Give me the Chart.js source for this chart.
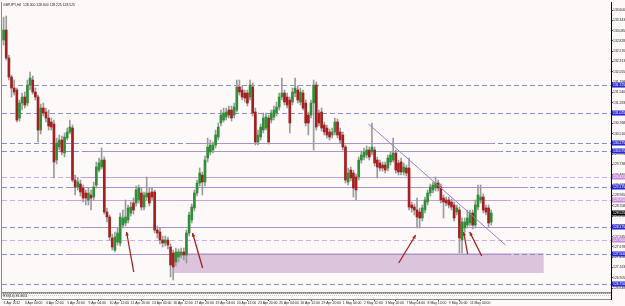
<!DOCTYPE html>
<html>
<head>
<meta charset="utf-8">
<script src="https://cdn.jsdelivr.net/npm/chart.js@4.4.1/dist/chart.umd.min.js"></script>
<style>
  html, body { margin: 0; padding: 0; background: #fdf9f9; }
  #wrap { width: 625px; height: 306px; position: relative; }
</style>
</head>
<body>
<div id="wrap"><canvas id="c" width="625" height="306"></canvas></div>
<script>
// GBPJPY H4, 1 Apr - 10 May 2012
const opens = [
  132.85,133.10,132.40,131.925,131.65,131.60,130.90,131.275,131.425,131.275,
  131.725,131.85,131.55,131.425,130.60,131.15,131.05,130.90,130.80,130.75,
  129.85,130.175,130.35,130.025,130.40,130.55,130.65,129.35,129.175,129.25,
  129.15,129.025,128.85,128.975,128.925,129.225,129.60,129.675,129.85,128.55,
  128.425,127.90,127.60,127.80,127.775,128.225,128.275,128.35,128.525,128.775,
  128.775,128.85,129.025,128.675,128.925,129.025,129.05,129.05,128.10,128.05,
  127.85,127.775,127.85,127.675,127.525,127.30,127.425,127.475,127.55,127.475,
  128.025,128.35,128.65,129.025,129.275,129.475,129.30,129.90,130.05,130.10,
  130.225,130.425,130.775,130.85,130.925,131.10,131.10,130.975,131.10,131.675,
  131.60,131.525,131.525,131.425,131.675,131.05,130.30,130.425,130.60,130.65,
  130.90,130.85,130.925,131.025,131.175,131.425,131.525,131.425,131.35,131.30,
  131.525,131.60,131.30,131.525,131.275,130.975,130.975,131.275,131.725,131.025,
  131.05,130.725,130.65,130.55,130.475,130.55,130.80,130.55,130.475,130.175,
  129.30,129.60,129.525,129.425,129.425,129.85,129.925,129.975,130.10,130.05,
  130.10,129.85,129.775,129.725,129.725,129.65,129.80,129.85,130.025,129.775,
  129.80,129.55,129.65,129.65,128.725,128.675,128.60,128.55,128.40,128.60,
  128.80,129.025,129.10,129.15,129.275,129.175,128.90,128.85,128.85,128.80,
  128.725,128.55,128.60,127.85,128.15,128.225,128.275,128.525,128.225,128.675,
  128.85,128.925,128.65,128.65,128.30
];
const highs = [
  133.425,133.45,132.475,131.975,131.85,131.65,131.35,131.525,131.55,131.85,
  132.05,131.95,131.65,131.475,131.25,131.275,131.15,131.10,130.90,130.85,
  130.40,130.475,130.45,130.525,130.65,130.85,130.725,129.475,129.40,129.35,
  129.225,129.10,129.15,129.10,129.30,129.80,129.90,130.15,129.925,128.65,
  128.475,128.00,128.05,128.15,128.525,128.60,128.85,128.725,128.80,128.90,
  129.20,129.225,129.15,129.05,129.425,129.15,129.15,129.10,128.20,128.15,
  127.95,127.95,127.925,127.75,127.60,127.65,127.625,127.65,127.65,128.10,
  128.55,128.75,129.10,129.35,129.65,129.55,129.95,130.40,130.35,130.30,
  130.60,130.775,131.10,131.15,131.15,131.20,131.20,131.275,131.85,131.85,
  131.70,131.60,131.60,131.85,131.775,131.15,130.60,130.75,131.025,131.025,
  130.975,131.10,131.20,131.30,131.525,131.90,131.60,131.525,131.425,131.65,
  131.90,131.70,131.65,131.60,131.35,131.05,131.35,131.85,131.80,131.10,
  131.15,130.80,130.725,130.625,130.65,130.90,130.875,130.65,130.55,130.225,
  129.65,129.675,129.60,129.50,129.925,130.075,130.15,130.20,130.175,130.775,
  130.175,129.925,129.85,129.80,129.80,129.975,130.05,130.40,130.10,129.85,
  129.90,129.775,129.725,129.90,128.80,128.75,128.90,128.65,128.725,128.925,
  129.10,129.25,129.30,129.425,129.35,129.25,128.975,128.925,128.925,128.875,
  128.80,128.725,128.675,128.40,128.40,128.60,128.60,128.60,128.85,129.225,
  129.225,129.00,128.725,128.725,128.60
];
const lows = [
  132.725,132.35,131.85,131.425,131.475,130.80,130.825,131.10,131.15,131.20,
  131.60,131.50,131.35,130.30,130.50,130.95,130.80,130.60,130.60,129.40,
  129.75,130.10,129.975,129.925,130.35,130.50,129.30,128.975,129.10,128.95,
  128.80,128.725,128.725,128.60,128.85,129.15,129.55,129.625,128.50,128.30,
  127.85,127.60,127.55,127.725,127.70,128.15,128.20,128.275,128.45,128.50,
  128.70,128.775,128.60,128.60,128.85,128.70,128.85,128.025,127.90,127.75,
  127.675,127.70,127.625,126.925,126.85,127.20,127.30,127.40,127.35,127.275,
  127.95,128.275,128.575,128.95,129.20,128.975,129.20,129.80,129.975,130.025,
  130.15,130.35,130.70,130.80,130.85,130.90,130.825,130.90,131.05,131.475,
  131.35,131.30,131.20,131.35,130.95,130.225,130.225,130.35,130.525,130.60,
  130.25,130.775,130.85,130.95,131.10,131.35,131.225,131.15,130.525,131.225,
  131.425,131.275,131.225,131.10,130.70,130.475,130.90,130.10,130.60,130.70,
  130.575,130.475,130.40,130.35,130.40,130.475,130.40,130.275,130.10,129.275,
  129.225,129.325,128.925,128.85,129.35,129.775,129.85,129.90,129.85,129.975,
  129.70,129.40,129.575,129.575,129.525,129.575,129.725,129.80,129.525,129.475,
  129.475,129.475,129.45,128.60,128.55,128.475,128.15,128.15,128.325,128.525,
  128.725,128.95,129.025,129.075,129.075,128.775,128.40,128.70,128.65,128.60,
  128.325,128.475,127.525,127.525,128.05,128.15,128.20,128.125,128.15,128.60,
  128.775,128.525,128.475,128.175,128.225
];
const closes = [
  133.10,132.40,131.925,131.65,131.55,130.85,131.275,131.425,131.225,131.725,
  131.90,131.55,131.425,130.60,131.15,131.025,130.90,130.70,130.675,129.80,
  130.275,130.35,130.05,130.425,130.55,130.675,129.35,129.175,129.30,129.05,
  128.90,128.90,129.025,128.90,129.175,129.675,129.775,129.85,128.55,128.425,
  127.925,127.675,127.925,128.025,128.425,128.40,128.425,128.65,128.675,128.60,
  129.10,129.15,128.675,128.975,129.025,128.775,128.925,128.10,128.025,127.85,
  127.775,127.85,127.725,127.225,127.175,127.55,127.55,127.55,127.475,128.025,
  128.475,128.675,129.025,129.275,129.525,129.30,129.85,130.175,130.225,130.225,
  130.475,130.675,130.975,131.025,131.05,130.975,130.90,131.175,131.675,131.55,
  131.425,131.40,131.275,131.725,131.025,130.30,130.475,130.675,130.90,130.925,
  130.30,131.025,131.10,131.175,131.425,131.525,131.30,131.225,130.775,131.55,
  131.65,131.35,131.55,131.15,130.775,130.775,131.275,131.725,130.675,130.775,
  130.65,130.55,130.475,130.425,130.55,130.80,130.475,130.35,130.175,129.35,
  129.525,129.40,129.15,129.10,129.85,129.975,130.05,130.10,129.925,130.175,
  129.775,129.675,129.65,129.65,129.60,129.90,129.975,130.025,129.60,129.55,
  129.55,129.675,129.525,128.675,128.65,128.60,128.425,128.40,128.65,128.85,
  129.025,129.175,129.225,129.275,129.15,128.85,128.80,128.775,128.725,128.675,
  128.40,128.65,127.90,128.30,128.30,128.40,128.525,128.225,128.725,128.975,
  128.925,128.60,128.55,128.275,128.525
];

// one time label every 8 bars
const timeLabels = [
  '1 Apr 2012','3 Apr 04:00','4 Apr 12:00','5 Apr 20:00','9 Apr 04:00','10 Apr 12:00',
  '11 Apr 20:00','13 Apr 04:00','16 Apr 12:00','17 Apr 20:00','19 Apr 04:00','20 Apr 12:00',
  '23 Apr 20:00','25 Apr 04:00','26 Apr 12:00','29 Apr 20:00','1 May 04:00','2 May 12:00',
  '3 May 20:00','7 May 04:00','8 May 12:00','9 May 20:00','11 May 04:00'
];
const priceTicks = [
  133.600,133.343,133.085,132.828,132.570,132.313,132.055,131.798,131.540,131.283,
  131.025,130.768,130.510,130.253,129.995,129.738,129.480,129.223,128.965,128.708,
  128.450,128.193,127.935,127.678,127.420,127.163,126.905,126.648
];

// RSI(14) sub-window, one reading every 5 bars
const rsiValues = [
  62,38,34,44,30,46,40,31,36,55,44,36,30,46,60,66,56,61,50,56,
  66,55,44,50,56,40,45,51,36,45,40,34,50,41,46,55,46
];

// horizontal levels drawn on the chart
const blueLevels = [131.725,131.025,130.275,130.075,129.175,128.175,127.50,126.75];
const pinkLevels = [129.425,128.85,127.85];
const segPrices = [130.275,130.075,129.425,129.175,128.85,128.175,127.50];
const segFrom   = [70,31,29,25,24,29,24];
const segTo     = [185,188,192,198,190,195,191];

// demand zone, trendline, arrows (bar index / price)
const zoneBars = [63.8, 203.8];
const zonePrices = [127.525, 127.025];
const trendBars = [137.7, 189.4];
const trendPrices = [130.75, 127.725];
const arrowTails = [[49.1,127.05],[75.1,127.15],[149.1,127.275],[175.1,127.50],[180.4,127.45]];
const arrowHeads = [[46.4,128.05],[71.3,128.025],[155.5,127.975],[173.6,128.05],[175.9,128.05]];

const GREEN = '#2f8f36', RED = '#a61e1e', WICK = '#9a9a9a';
const BLUE_LINE = '#8e8ec6', PINK_LINE = '#d3b0dc';
const FONT = 'Liberation Sans, Arial, sans-serif';
const PANEL_FLOOR = 126.55; // price where the main window ends

const bars = opens.map((_, i) => i);
const wickData = bars.map(i => ({x: i, y: [lows[i], highs[i]]}));
const bodyData = bars.map(i => ({x: i, y: [Math.min(opens[i], closes[i]), Math.max(opens[i], closes[i])]}));
const bodyColors = bars.map(i => closes[i] >= opens[i] ? GREEN : RED);
const rsiData = rsiValues.map((v, k) => ({x: k * 5, y: v}));
const last = opens.length - 1;

const overlay = {
  id: 'overlay',
  beforeDatasetsDraw(chart) {
    const {ctx, chartArea: a, scales: {x, y}} = chart;
    const floor = y.getPixelForValue(PANEL_FLOOR);
    ctx.save();
    ctx.beginPath(); ctx.rect(a.left, a.top, a.right - a.left, floor - a.top); ctx.clip();
    // zone
    const zx0 = x.getPixelForValue(zoneBars[0]), zx1 = x.getPixelForValue(zoneBars[1]);
    const zy0 = y.getPixelForValue(zonePrices[0]), zy1 = y.getPixelForValue(zonePrices[1]);
    ctx.fillStyle = '#dcc4dc';
    ctx.fillRect(zx0, zy0, zx1 - zx0, zy1 - zy0);
    // dashed levels
    ctx.lineWidth = 1;
    ctx.setLineDash([5, 3]);
    const dashed = (p, col) => {
      const py = Math.round(y.getPixelForValue(p)) + 0.5;
      ctx.strokeStyle = col;
      ctx.beginPath(); ctx.moveTo(a.left, py); ctx.lineTo(a.right, py); ctx.stroke();
    };
    blueLevels.forEach(p => dashed(p, BLUE_LINE));
    pinkLevels.forEach(p => dashed(p, PINK_LINE));
    // solid segments
    ctx.setLineDash([]);
    segPrices.forEach((p, k) => {
      const py = Math.round(y.getPixelForValue(p)) + 0.5;
      ctx.strokeStyle = pinkLevels.includes(p) ? '#c7a2d6' : '#a596cc';
      ctx.beginPath();
      ctx.moveTo(x.getPixelForValue(segFrom[k]), py);
      ctx.lineTo(x.getPixelForValue(segTo[k]), py);
      ctx.stroke();
    });
    ctx.restore();
  },
  afterDatasetsDraw(chart) {
    const {ctx, scales: {x, y}} = chart;
    ctx.save();
    // trendline
    ctx.strokeStyle = '#a07cc6';
    ctx.lineWidth = 1;
    ctx.beginPath();
    ctx.moveTo(x.getPixelForValue(trendBars[0]), y.getPixelForValue(trendPrices[0]));
    ctx.lineTo(x.getPixelForValue(trendBars[1]), y.getPixelForValue(trendPrices[1]));
    ctx.stroke();
    // arrows
    ctx.strokeStyle = '#a82020';
    ctx.fillStyle = '#a82020';
    ctx.lineWidth = 1.3;
    arrowTails.forEach((t, k) => {
      const x0 = x.getPixelForValue(t[0]), y0 = y.getPixelForValue(t[1]);
      const x1 = x.getPixelForValue(arrowHeads[k][0]), y1 = y.getPixelForValue(arrowHeads[k][1]);
      const ang = Math.atan2(y1 - y0, x1 - x0);
      ctx.beginPath(); ctx.moveTo(x0, y0); ctx.lineTo(x1, y1); ctx.stroke();
      ctx.beginPath();
      ctx.moveTo(x1, y1);
      ctx.lineTo(x1 - 4 * Math.cos(ang - 0.45), y1 - 4 * Math.sin(ang - 0.45));
      ctx.lineTo(x1 - 4 * Math.cos(ang + 0.45), y1 - 4 * Math.sin(ang + 0.45));
      ctx.closePath(); ctx.fill();
    });
    ctx.restore();
  },
  afterDraw(chart) {
    const {ctx, chartArea: a, scales: {y, rsi}} = chart;
    const floor = Math.round(y.getPixelForValue(PANEL_FLOOR)) + 0.5;
    ctx.save();
    // frames
    ctx.strokeStyle = '#8a8a8a';
    ctx.lineWidth = 1;
    ctx.beginPath();
    ctx.moveTo(1.5, a.top); ctx.lineTo(1.5, a.bottom);
    ctx.moveTo(a.left, floor); ctx.lineTo(a.right, floor);
    ctx.moveTo(a.left, floor + 1); ctx.lineTo(a.right, floor + 1);
    ctx.moveTo(a.left, Math.round(a.bottom) + 0.5); ctx.lineTo(a.right, Math.round(a.bottom) + 0.5);
    ctx.stroke();
    // RSI level lines
    ctx.strokeStyle = '#c8c8c8';
    ctx.setLineDash([1, 1]);
    [30, 70].forEach(v => {
      const py = Math.round(rsi.getPixelForValue(v)) + 0.5;
      ctx.beginPath(); ctx.moveTo(a.left, py); ctx.lineTo(a.right, py); ctx.stroke();
    });
    ctx.setLineDash([]);
    // texts
    ctx.fillStyle = '#222';
    ctx.font = '3.4px ' + FONT;
    ctx.textBaseline = 'top';
    ctx.textAlign = 'left';
    const ohlc = [opens[last], highs[last], lows[last], closes[last]].map(v => v.toFixed(3)).join(' ');
    ctx.fillText('GBPJPY,H4  ' + ohlc, 3, 3.5);
    ctx.fillText('RSI(14) 36.3611', 3, floor + 2);
    // price tags on the axis
    const tag = (p, bg) => {
      const py = y.getPixelForValue(p);
      ctx.fillStyle = bg;
      ctx.fillRect(a.right + 1, py - 2.5, 13, 5);
      ctx.fillStyle = '#fff';
      ctx.textBaseline = 'middle';
      ctx.fillText(p.toFixed(3), a.right + 2, py);
    };
    blueLevels.forEach(p => tag(p, '#2a2ad0'));
    pinkLevels.forEach(p => tag(p, '#c58ad8'));
    tag(closes[last], '#000');
    ctx.restore();
  }
};

new Chart(document.getElementById('c'), {
  data: {
    datasets: [
      {type: 'bar', data: wickData, backgroundColor: WICK, barThickness: 1, grouped: false, order: 2, borderWidth: 0},
      {type: 'bar', data: bodyData, backgroundColor: bodyColors, barThickness: 2, grouped: false, order: 1, borderWidth: 0},
      {type: 'line', data: rsiData, yAxisID: 'rsi', borderColor: '#9fc6e8', borderWidth: 0.8,
       pointRadius: 0, tension: 0.35, order: 3}
    ]
  },
  options: {
    responsive: false,
    animation: false,
    devicePixelRatio: 1,
    layout: {padding: {left: 2, top: 2, right: 0, bottom: 0}},
    plugins: {legend: {display: false}, tooltip: {enabled: false}},
    scales: {
      x: {
        type: 'linear', min: -0.6, max: 229.2, offset: false,
        grid: {drawOnChartArea: false, drawTicks: true, tickLength: 2, color: '#555'},
        border: {display: false},
        ticks: {
          font: {size: 3.4, family: FONT}, color: '#222', align: 'start', padding: 0,
          maxRotation: 0, autoSkip: false,
          callback: v => timeLabels[Math.round(v / 8)]
        },
        afterBuildTicks: s => { s.ticks = timeLabels.map((_, k) => ({value: k * 8})); },
        afterFit: s => { s.height = 7; }
      },
      y: {
        position: 'right', min: 126.375, max: 133.80,
        grid: {drawOnChartArea: false, tickLength: 2, color: '#555'},
        border: {display: true, color: '#000'},
        ticks: {font: {size: 3.4, family: FONT}, color: '#222', padding: 0, callback: v => v.toFixed(3)},
        afterBuildTicks: s => { s.ticks = priceTicks.map(v => ({value: v})); },
        afterFit: s => { s.width = 14; }
      },
      rsi: {display: false, min: 0, max: 4950}
    }
  },
  plugins: [overlay]
});
</script>
</body>
</html>
